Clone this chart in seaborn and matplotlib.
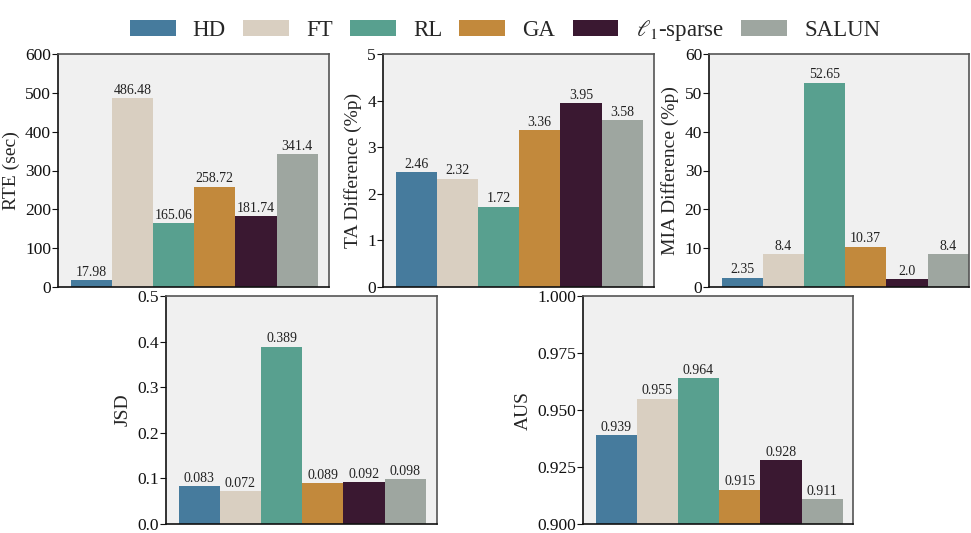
import matplotlib
matplotlib.use('Agg')
import matplotlib.pyplot as plt
from matplotlib.patches import Patch
import seaborn as sns
import pandas as pd

# data
methods = ['HD', 'FT', 'RL', 'GA', 'l1-sparse', 'SALUN']
legend_labels = ['HD', 'FT', 'RL', 'GA', r'$\ell_1$-sparse', 'SALUN']
colors = ['#467B9D', '#D9CFC1', '#58A08F', '#C2893C', '#3A1831', '#9EA6A0']

rte = [17.98, 486.48, 165.06, 258.72, 181.74, 341.4]
ta_diff = [2.46, 2.32, 1.72, 3.36, 3.95, 3.58]
mia_diff = [2.35, 8.4, 52.65, 10.37, 2.0, 8.4]
jsd = [0.083, 0.072, 0.389, 0.089, 0.092, 0.098]
aus = [0.939, 0.955, 0.964, 0.915, 0.928, 0.911]

sns.set_style('white')
plt.rcParams['font.family'] = ['Liberation Serif', 'DejaVu Serif']
plt.rcParams['mathtext.fontset'] = 'stix'

W, H = 971, 533
fig = plt.figure(figsize=(W / 100, H / 100), dpi=100)


def px_axes(x0, x1, y0, y1):
    return fig.add_axes([x0 / W, 1 - y1 / H, (x1 - x0) / W, (y1 - y0) / H])


panels = [
    # (values, ylabel, ylim, yticks, tick fmt, pixel box)
    (rte, 'RTE (sec)', (0, 600), list(range(0, 601, 100)), '{:.0f}', (58, 329, 54, 287)),
    (ta_diff, 'TA Difference (%p)', (0, 5), list(range(0, 6)), '{:.0f}', (383, 654, 54, 287)),
    (mia_diff, 'MIA Difference (%p)', (0, 60), list(range(0, 61, 10)), '{:.0f}', (709, 969, 54, 287)),
    (jsd, 'JSD', (0, 0.5), [0, 0.1, 0.2, 0.3, 0.4, 0.5], '{:.1f}', (166, 437, 296, 524)),
    (aus, 'AUS', (0.9, 1.0), [0.9, 0.925, 0.95, 0.975, 1.0], '{:.3f}', (583, 853, 296, 524)),
]

for vals, ylab, ylim, yt, fmt, box in panels:
    ax = px_axes(*box)
    df = pd.DataFrame({'method': methods, 'value': vals})
    sns.barplot(data=df, x='method', y='value', hue='method', palette=colors,
                width=1.0, ax=ax, legend=False, saturation=1,
                linewidth=0, edgecolor='none')
    ax.set_facecolor('#F0F0F0')
    bar_w = 41.2
    left_margin = 12.5
    axw = box[1] - box[0]
    x0 = -0.5 - left_margin / bar_w
    ax.set_xlim(x0, x0 + axw / bar_w)
    ax.set_ylim(*ylim)
    ax.set_yticks(yt)
    ax.set_yticklabels([fmt.format(t) for t in yt])
    ax.set_xticks([])
    ax.set_xlabel('')
    ax.set_ylabel(ylab, fontsize=14, labelpad=4)
    ax.tick_params(axis='y', labelsize=12.5, length=4, width=0.8, pad=1,
                   left=True, direction='out', color='#111111', labelcolor='#111111')
    for c in ax.containers:
        ax.bar_label(c, labels=[str(v) for v in c.datavalues], fontsize=10,
                     padding=1, color='#222222')
    for s in ['left', 'bottom']:
        ax.spines[s].set_color('#111111')
        ax.spines[s].set_linewidth(1.2)
    for s in ['top', 'right']:
        ax.spines[s].set_color('#555555')
        ax.spines[s].set_linewidth(1.2)

handles = [Patch(facecolor=c, edgecolor='none') for c in colors]
fig.legend(handles, legend_labels, loc='upper center', bbox_to_anchor=(505 / W, 1.005),
           ncol=6, frameon=False, fontsize=16.5, handlelength=2.0, handleheight=0.75,
           handletextpad=0.75, columnspacing=0.75)

fig.savefig('out.png', dpi=100)
